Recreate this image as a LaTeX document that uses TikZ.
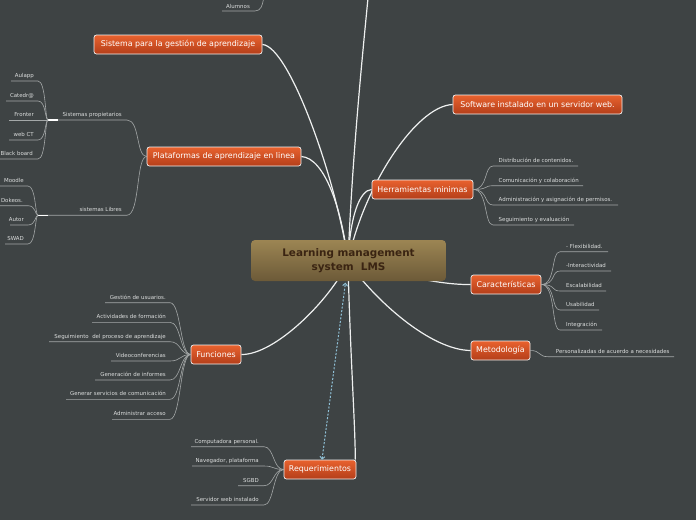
\documentclass[tikz,border=0pt]{standalone}
\usepackage{fontspec}
\setmainfont{DejaVu Sans}
\usetikzlibrary{arrows.meta}
\definecolor{bgc}{HTML}{3E4344}
\definecolor{orTop}{HTML}{E8622E}
\definecolor{orBot}{HTML}{B43E1A}
\definecolor{topicborder}{HTML}{F2F2F2}
\definecolor{ceTop}{HTML}{9C8553}
\definecolor{ceBot}{HTML}{6C5A38}
\definecolor{ceText}{HTML}{3A2412}
\definecolor{twigc}{HTML}{A4A8A8}
\definecolor{leafc}{HTML}{DCDEDE}
\definecolor{linkc}{HTML}{8FC0D6}
\definecolor{branchc}{HTML}{EEF0F0}
\pgfdeclarelayer{back}
\pgfdeclarelayer{lines}
\pgfsetlayers{back,lines,main}
\tikzset{
  topic/.style={draw=topicborder, line width=0.7pt, rounded corners=2.5pt,
    top color=orTop, bottom color=orBot, text=white,
    font=\fontsize{7.9}{9}\selectfont, inner xsep=4pt, inner ysep=0pt,
    minimum height=19pt},
  central/.style={rounded corners=4pt, top color=ceTop, bottom color=ceBot,
    text=ceText, font=\bfseries\fontsize{10.4}{14.5}\selectfont, align=center,
    minimum width=195pt, minimum height=41pt, inner sep=0pt},
  branch/.style={draw=branchc, line width=1.2pt},
  twig/.style={draw=twigc, line width=0.6pt},
  leaf/.style={text=leafc, font=\fontsize{5.45}{6}\selectfont, inner sep=0pt},
  marker/.style={draw=white, line width=1.2pt},
  link/.style={draw=linkc, line width=1pt, dash pattern=on 2pt off 1.6pt,
    {Straight Barb[length=2.5pt,width=5pt]}-{Straight Barb[length=2.5pt,width=5pt]}},
}
\begin{document}
\begin{tikzpicture}[x=1pt,y=-1pt]
\begin{pgfonlayer}{back}
\fill[bgc] (0,0) rectangle (696,520);
\end{pgfonlayer}
\useasboundingbox (0,0) rectangle (696,520);

% central and topic nodes
\node[central] (lms) at (348.5,260.5) {Learning management\\system\ \ LMS};
\node[topic, minimum width=168pt] (sga) at (178,44.5) {Sistema para la gestión de aprendizaje};
\node[topic, minimum width=154pt] (plat) at (224,156.5) {Plataformas de aprendizaje en linea};
\node[topic, minimum width=169pt] (soft) at (537.5,104.5) {Software instalado en un servidor web.};
\node[topic, minimum width=101pt] (herr) at (422.5,189.5) {Herramientas minimas};
\node[topic, minimum width=70pt] (carac) at (506,284.5) {Características};
\node[topic, minimum width=59pt] (meto) at (500.5,350.5) {Metodología};
\node[topic, minimum width=50pt] (func) at (216,354.5) {Funciones};
\node[topic, minimum width=72pt] (req) at (320,469.5) {Requerimientos};

\coordinate (root) at (348,262);
\coordinate (topend) at (368,-2);

\begin{pgfonlayer}{lines}
\draw[branch] (sga.east) .. controls (290,46) and (338,185) .. (root);
\draw[branch] (plat.east) .. controls (325,158) and (342,210) .. (root);
\draw[branch] (root) .. controls (352,160) and (362,60) .. (topend);
\draw[branch] (soft.west) .. controls (415,106) and (362,190) .. (root);
\draw[branch] (herr.west) .. controls (360,190) and (350,215) .. (root);
\draw[branch] (root) .. controls (400,275) and (440,285) .. (carac.west);
\draw[branch] (root) .. controls (375,300) and (430,350) .. (meto.west);
\draw[branch] (root) .. controls (330,300) and (275,355) .. (func.east);
\draw[branch] (root) .. controls (350,350) and (355,420) .. ([xshift=-1pt]req.north east);
\end{pgfonlayer}
\draw[link] ([xshift=2pt]req.north) -- ([xshift=-3pt,yshift=-1.5pt]lms.south);

% Alumnos (top, branch continues off the picture)
\node[leaf, anchor=base west] (alum) at (226,8) {Alumnos};
\coordinate (alumA) at (222,11);
\coordinate (alumB) at (255,11);
\coordinate (alumTop) at (263.5,-1);
\draw[twig] (alumA) -- (alumB) .. controls (261,11) and (262.5,5) .. (alumTop);

% Herramientas children
\node[leaf, anchor=base west] (h1) at (498.5,162.5) {Distribución de contenidos.};
\node[leaf, anchor=base west] (h2) at (498.5,182.2) {Comunicación y colaboración};
\node[leaf, anchor=base west] (h3) at (498.5,201.5) {Administración y asignación de permisos.};
\node[leaf, anchor=base west] (h4) at (498.5,221.5) {Seguimiento y evaluación};
\draw[twig] (herr.east) .. controls (488,189.5) and (484,166) .. (493,166) -- (578,166);
\draw[twig] (herr.east) .. controls (488,189.5) and (484,185.7) .. (493,185.7) -- (583,185.7);
\draw[twig] (herr.east) .. controls (488,189.5) and (484,205) .. (493,205) -- (618,205);
\draw[twig] (herr.east) .. controls (488,189.5) and (484,225) .. (493,225) -- (574,225);

% Caracteristicas children
\node[leaf, anchor=base west] (c1) at (566,248.2) {- Flexibilidad.};
\node[leaf, anchor=base west] (c2) at (566,267.5) {-Interactividad};
\node[leaf, anchor=base west] (c3) at (566,287.5) {Escalabilidad};
\node[leaf, anchor=base west] (c4) at (566,306.5) {Usabilidad};
\node[leaf, anchor=base west] (c5) at (566,326.5) {Integración};
\draw[twig] (carac.east) .. controls (556,284.5) and (551,251.7) .. (560,251.7) -- (608,251.7);
\draw[twig] (carac.east) .. controls (556,284.5) and (551,271) .. (560,271) -- (611,271);
\draw[twig] (carac.east) .. controls (556,284.5) and (551,291) .. (560,291) -- (606,291);
\draw[twig] (carac.east) .. controls (556,284.5) and (551,310) .. (560,310) -- (599,310);
\draw[twig] (carac.east) .. controls (556,284.5) and (551,330) .. (560,330) -- (602,330);

% Metodologia child
\node[leaf, anchor=base west] (m1) at (555.7,353.2) {Personalizadas de acuerdo a necesidades};
\draw[twig] (meto.east) .. controls (541,350.5) and (538,356.7) .. (548,356.7) -- (674,356.7);

% Funciones children
\node[leaf, anchor=base east] (f1) at (166,299.2) {Gestión de usuarios.};
\node[leaf, anchor=base east] (f2) at (166,318.8) {Actividades de formación};
\node[leaf, anchor=base east] (f3) at (166,338.2) {Seguimiento\ \ del proceso de aprendizaje};
\node[leaf, anchor=base east] (f4) at (166,357.5) {Videoconferencias};
\node[leaf, anchor=base east] (f5) at (166,376.5) {Generación de informes};
\node[leaf, anchor=base east] (f6) at (166,395.8) {Generar servicios de comunicación};
\node[leaf, anchor=base east] (f7) at (166,415.8) {Administrar acceso};
\draw[twig] (func.west) .. controls (180,354.5) and (181,302.7) .. (170,302.7) -- (105,302.7);
\draw[twig] (func.west) .. controls (180,354.5) and (181,322.3) .. (170,322.3) -- (92,322.3);
\draw[twig] (func.west) .. controls (180,354.5) and (181,341.7) .. (170,341.7) -- (49,341.7);
\draw[twig] (func.west) .. controls (180,354.5) and (181,361) .. (170,361) -- (111,361);
\draw[twig] (func.west) .. controls (180,354.5) and (181,380) .. (170,380) -- (95,380);
\draw[twig] (func.west) .. controls (180,354.5) and (181,399.3) .. (170,399.3) -- (66,399.3);
\draw[twig] (func.west) .. controls (180,354.5) and (181,419.3) .. (170,419.3) -- (112,419.3);

% Requerimientos children
\node[leaf, anchor=base east] (r1) at (259,443.2) {Computadora personal.};
\node[leaf, anchor=base east] (r2) at (259,462.5) {Navegador, plataforma};
\node[leaf, anchor=base east] (r3) at (259,482.2) {SGBD};
\node[leaf, anchor=base east] (r4) at (259,501.5) {Servidor web instalado};
\draw[twig] (req.west) .. controls (273,469.5) and (274,446.7) .. (264,446.7) -- (191,446.7);
\draw[twig] (req.west) .. controls (273,469.5) and (274,466) .. (264,466) -- (192,466);
\draw[twig] (req.west) .. controls (273,469.5) and (274,485.7) .. (264,485.7) -- (238,485.7);
\draw[twig] (req.west) .. controls (273,469.5) and (274,505) .. (264,505) -- (191,505);

% Plataformas children
\node[leaf, anchor=base east] (sp) at (122,116.5) {Sistemas propietarios};
\node[leaf, anchor=base east] (sl) at (122,211.7) {sistemas Libres};
\coordinate (spJ) at (48,120);
\coordinate (slJ) at (38,215.2);
\draw[twig] (plat.west) .. controls (136,156.5) and (140,120) .. (127,120) -- (spJ);
\draw[twig] (plat.west) .. controls (136,156.5) and (140,215.2) .. (127,215.2) -- (slJ);
\draw[marker] (spJ) -- ++(10,0);
\draw[marker] (slJ) -- ++(10,0);

\node[leaf, anchor=base east] (p1) at (34,77.5) {Aulapp};
\node[leaf, anchor=base east] (p2) at (34,97.5) {Catedr@};
\node[leaf, anchor=base east] (p3) at (34,116.5) {Fronter};
\node[leaf, anchor=base east] (p4) at (34,136.5) {web CT};
\node[leaf, anchor=base east] (p5) at (33,155.5) {Black board};
\draw[twig] (spJ) .. controls (45,120) and (46,81) .. (38,81) -- (11,81);
\draw[twig] (spJ) .. controls (45,120) and (46,101) .. (38,101) -- (6,101);
\draw[twig] (spJ) -- (9,120);
\draw[twig] (spJ) .. controls (45,120) and (46,140) .. (38,140) -- (9,140);
\draw[twig] (spJ) .. controls (45,120) and (46,159) .. (38,159) -- (0,159);

\node[leaf, anchor=base east] (l1) at (24,182.5) {Moodle};
\node[leaf, anchor=base east] (l2) at (23,202.2) {Dokeos.};
\node[leaf, anchor=base east] (l3) at (24,221.5) {Autor};
\node[leaf, anchor=base east] (l4) at (24,240.5) {SWAD};
\draw[twig] (slJ) .. controls (35,215.2) and (36,186) .. (28,186) -- (0,186);
\draw[twig] (slJ) .. controls (35,215.2) and (36,205.7) .. (28,205.7) -- (0,205.7);
\draw[twig] (slJ) .. controls (35,215.2) and (36,225) .. (28,225) -- (10,225);
\draw[twig] (slJ) .. controls (35,215.2) and (36,244) .. (28,244) -- (5,244);
\end{tikzpicture}
\end{document}
